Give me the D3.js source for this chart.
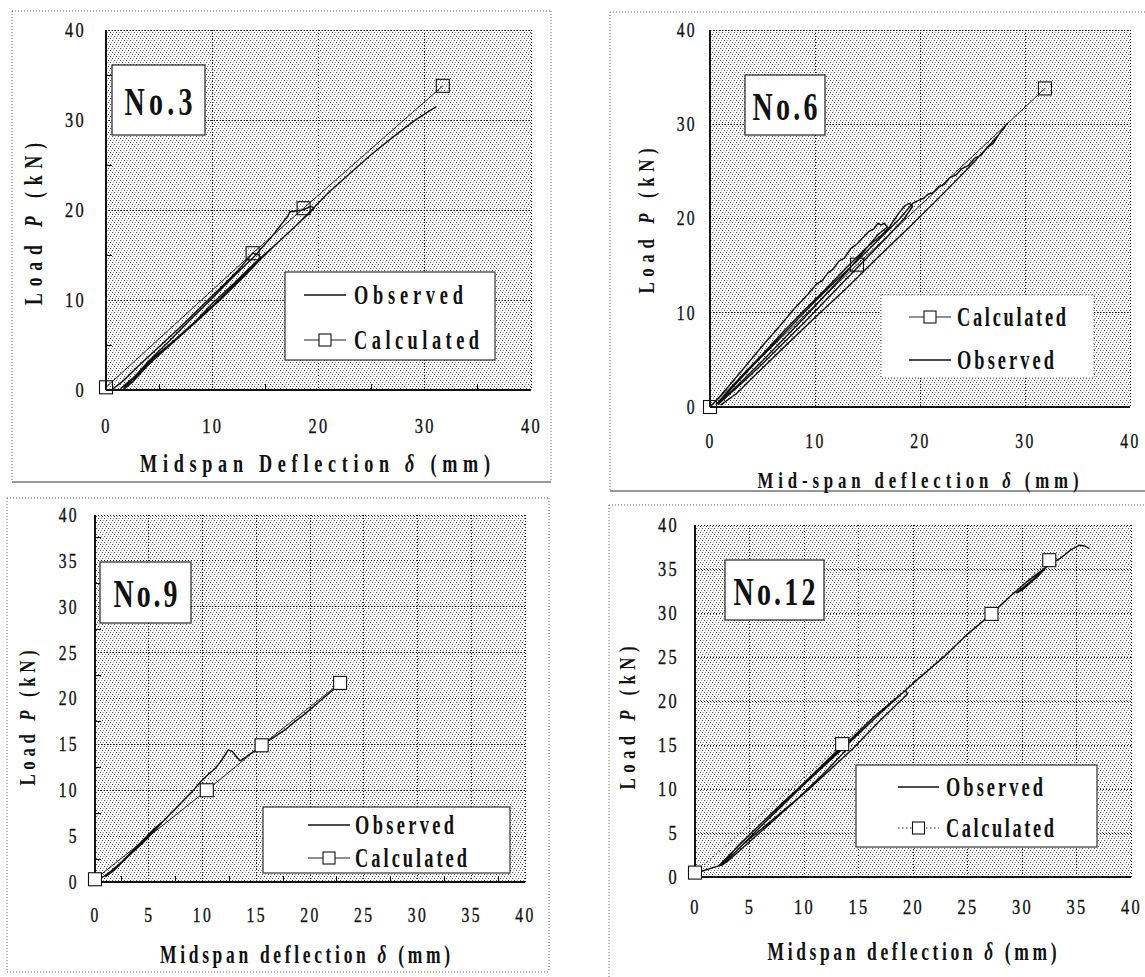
<!DOCTYPE html>
<html><head><meta charset="utf-8">
<script src="https://cdn.jsdelivr.net/npm/d3@7"></script>
<style>body{margin:0;background:#fff}svg{display:block}</style>
</head><body>
<svg id="fig" width="1145" height="977"></svg>
<script>
// Load–deflection curves of specimens No.3, No.6, No.9 and No.12
// every point: [midspan deflection (mm), load P (kN)]
const obsNo3 = [
  [0.5,0],[1.5,0.9],[3,2.6],[5,4.8],[7,7],[9,9.3],[11,11.6],[12.5,13.4],[13.8,15.2],
  [14.4,15.0],[14.6,14.6],[13,12.6],[11,10.3],[9,8.1],[7,6],[5,3.9],[3,1.8],[1.4,0.2],
  [2,0.6],[4,3.2],[6,5.5],[8,7.9],[10,10.2],[12,12.6],[14,14.9],[15.5,16.9],[17.1,19.3],[17.3,19.8],[18.5,20],[19.3,20.4],
  [19.6,20.2],[18,18.4],[16,16.2],[14,14.1],[12,11.8],[10,9.6],[8.4,7.6],[6.5,5.6],[4.5,3.6],[3,1.7],[2,0.6],[1.6,0],
  [2.5,0.9],[4,2.8],[6,5],[8,7.2],[10,9.3],[12,11.6],[14,13.9],[16,16.2],[18,18.4],[19.6,20.3],[21,22],[23,24.1],
  [25,26.2],[27,28.1],[29,29.9],[30.3,30.9],[31.1,31.5]
];
const calcNo3 = [[0,0.3],[13.8,15.2],[18.6,20.2],[31.7,33.8]];

const obsNo6 = [
  [0,0],[1,1.2],[2,2.5],[3.5,4.5],[5,6.5],[6.5,8.4],[8,10.4],[9.2,11.8],[10.2,13.1],[10.7,13.4],[11.2,14.2],
  [11.7,14.6],[12.3,15.5],[12.8,15.8],[13.4,16.8],[14,17.3],[14.6,18],[15.1,18.6],[15.6,18.9],[16,19.5],[16.3,19.3],
  [16.6,19.5],[16.9,19.1],
  [16,18.3],[14.5,16.3],[13,14.3],[11,11.9],[9,9.5],[7,7.2],[5,4.9],[3,2.7],[1.5,1.1],[0.6,0.3],
  [1.5,1.4],[3,3.3],[5,5.6],[7,8],[9,10.3],[11,12.5],[13,14.8],[15,17],[16.3,18.2],[17.1,19.1],[18,20.6],[18.6,21.4],
  [19,21.6],[19.3,21.3],
  [18.5,20],[17,18.2],[15,15.9],[13,13.6],[11,11.3],[9,9],[7,6.8],[5,4.6],[3,2.5],[1.5,1],[0.8,0.3],
  [2,1.9],[4,4.3],[6,6.6],[8,8.9],[10,11.2],[12,13.4],[14,15.5],[16,17.7],[18,19.9],[19.3,21.6],[19.8,21.9],
  [20.3,22.1],[20.8,22.6],[21.2,22.7],[21.8,23.4],[22.3,23.6],[22.8,24.3],[23.4,24.6],[24,25.3],[24.6,25.6],
  [25.2,26.4],[25.8,26.7],[26.4,27.5],[27,28],[27.5,28.9],[28,29.6],[28.3,30.1],
  [27.5,28.9],[25,25.8],[22,22.4],[19,19.1],[16,15.9],[13,12.6],[10,9.5],[7,6.3],[4.5,3.6],[2.5,1.4],[1,0.2]
];
const calcNo6 = [[0,0],[14,15.1],[31.9,33.8]];

const obsNo9 = [
  [0,0],[0.8,0.6],[1.5,1.2],[2.5,2.2],[3.5,3.4],[4.5,4.6],[5.5,5.8],[6.3,6.6],
  [5.8,5.9],[4.5,4.3],[3,2.7],[1.8,1.3],[1,0.6],
  [2,1.7],[3.5,3.3],[5,5],[6.5,6.8],[8,8.6],[9,9.8],[9.8,10.9],[10.5,11.7],[11.2,12.4],[11.8,13.3],[12.4,14.4],
  [12.8,14.2],[13.2,13.6],[13.5,13.2],[14,13.6],[14.6,14.1],[15.2,14.6],[16,15.3],[16.8,15.9],[17.7,16.6],
  [18.5,17.4],[19.5,18.3],[20.5,19.3],[21.5,20.3],[22.3,21.1]
];
const calcNo9 = [[0,0.3],[10.4,10],[15.5,14.9],[22.8,21.7]];

const obsNo12 = [
  [0.5,0.6],[1.5,1.0],[2.3,1.3],[3,2.2],[4,3.6],[6,6],[8.5,8.9],[11,11.9],[13.5,14.9],
  [14,14.6],[12,12],[9.5,9],[7,6.4],[4.5,3.8],[3,2],[2.2,1.3],
  [3,2.3],[5,4.8],[8,8.4],[11,11.8],[14,15.3],[16.5,18.3],[19.3,21.2],
  [19.5,20.8],[17,17.8],[14.5,14.6],[11,10.6],[8,7.3],[5,4],[3,1.8],[2.4,1.3],
  [3.5,2.6],[6,5.7],[10,10.5],[14,15.1],[17,18.6],[20,22],[23,25.2],[25,27.6],[27.2,29.9],[29,32],[30.5,33.6],
  [32.3,35.3],[31.5,34.2],[30,32.6],[29.5,32.3],[31,33.8],[32.5,35.5],[33.5,36.2],[34.5,37.2],[35.3,37.7],
  [35.8,37.6],[36.2,37.3]
];
const calcNo12 = [[0,0.5],[13.5,15.1],[27.2,29.9],[32.5,36]];

const ticksBy10 = [0, 10, 20, 30, 40];
const ticksBy5 = [0, 5, 10, 15, 20, 25, 30, 35, 40];
const seriesNames = {obs: "Observed", calc: "Calculated"};

const svg = d3.select("#fig");
const FONT = "'Liberation Serif','Times New Roman',serif";

// halftone-like grain used behind every plot area
const defs = svg.append("defs");
const grain = defs.append("pattern").attr("id", "grain")
  .attr("patternUnits", "userSpaceOnUse").attr("width", 6).attr("height", 6);
grain.append("rect").attr("width", 6).attr("height", 6).attr("fill", "#fff");
[[0,0,"#444"],[2,2,"#444"],[4,4,"#444"],[3,0,"#9a9a9a"],[5,2,"#9a9a9a"],[1,4,"#9a9a9a"]]
  .forEach(([x, y, c]) => grain.append("rect").attr("x", x).attr("y", y)
    .attr("width", 1).attr("height", 1).attr("fill", c));

const panels = [
  { title: "No.3", obs: obsNo3, calc: calcNo3, ticks: ticksBy10, minor: 5,
    frame: [12, 11, 551, 482], solidBottom: true, plot: [106, 30, 531, 390],
    yPad: 20, xPad: 28, tickSize: 21,
    yTitle: [34, 224, 162, 25], xTitle: ["Midspan Deflection ", 315, 463, 350, 26],
    box: [112, 65, 205, 135, 68], calcDash: null, squareFill: "none",
    legend: { rect: [285, 272, 495, 360], rows: [295, 340], order: ["obs", "calc"],
              sample: [304, 346], text: 354, widths: {obs: 109, calc: 125} } },
  { title: "No.6", obs: obsNo6, calc: calcNo6, ticks: ticksBy10, minor: null,
    frame: [610, 12, 1160, 491], solidBottom: true, plot: [710, 30, 1130, 407],
    yPad: 13, xPad: 27, tickSize: 20,
    yTitle: [646, 221, 145, 24], xTitle: ["Mid-span deflection ", 918, 480, 321, 24],
    box: [745, 75, 825, 135, 65], calcDash: null, squareFill: "none",
    legend: { rect: [881, 295, 1094, 378], rows: [317, 360], order: ["calc", "obs"],
              sample: [909, 951], text: 957, widths: {obs: 97, calc: 109}, dotted: true } },
  { title: "No.9", obs: obsNo9, calc: calcNo9, ticks: ticksBy5, minor: 2.5,
    frame: [7, 498, 549, 972], solidBottom: false, plot: [95, 515, 525, 882],
    yPad: 16, xPad: 26, tickSize: 20,
    yTitle: [27, 718, 135, 24], xTitle: ["Midspan deflection ", 305, 955, 290, 25],
    box: [100, 562, 191, 623, 64], calcDash: null, squareFill: "#fff",
    legend: { rect: [263, 807, 510, 873], rows: [825, 858], order: ["obs", "calc"],
              sample: [308, 350], text: 355, widths: {obs: 99, calc: 112} } },
  { title: "No.12", obs: obsNo12, calc: calcNo12, ticks: ticksBy5, minor: null,
    frame: [609, 505, 1160, 990], solidBottom: false, plot: [695, 525, 1131, 877],
    yPad: 16, xPad: 22, tickSize: 21,
    yTitle: [627, 718, 143, 24], xTitle: ["Midspan deflection ", 912, 952, 289, 25],
    box: [725, 560, 824, 620, 82], calcDash: "1.5,2.5", squareFill: "#fff",
    legend: { rect: [856, 765, 1097, 847], rows: [787, 828], order: ["obs", "calc"],
              sample: [898, 939], text: 946, widths: {obs: 97, calc: 108} } }
];

// bold, condensed, widely spaced lettering
function spacedText(parent, x, y, parts, o) {
  const sx = o.sx || 0.7;
  const t = parent.append("g")
    .attr("transform", `translate(${x},${y}) rotate(${o.rotate || 0}) scale(${sx},1)`)
    .append("text")
    .attr("font-family", FONT).attr("font-size", o.size)
    .attr("font-weight", o.weight || "bold")
    .attr("text-anchor", o.anchor || "start")
    .attr("dominant-baseline", "central")
    .attr("fill", "#111");
  if (o.width) t.attr("textLength", o.width / sx).attr("lengthAdjust", "spacing");
  parts.forEach(p => t.append("tspan").text(p[0]).attr("font-style", p[1] ? "italic" : null));
  return t;
}

function line(g, x1, y1, x2, y2, stroke, width, dash) {
  g.append("line").attr("x1", x1).attr("y1", y1).attr("x2", x2).attr("y2", y2)
    .attr("stroke", stroke).attr("stroke-width", width)
    .attr("stroke-dasharray", dash || null);
}

function square(g, cx, cy, s, fill) {
  g.append("rect").attr("x", cx - s / 2).attr("y", cy - s / 2)
    .attr("width", s).attr("height", s)
    .attr("fill", fill).attr("stroke", "#111").attr("stroke-width", 1.1);
}

const TICK_SX = 0.78;

panels.forEach(p => {
  const g = svg.append("g");
  const [fx0, fy0, fx1, fy1] = p.frame;
  // dotted panel frame
  line(g, fx0, fy0, fx1, fy0, "#666", 1, "1,2");
  line(g, fx0, fy0, fx0, fy1, "#666", 1, "1,2");
  line(g, fx1, fy0, fx1, fy1, "#666", 1, "1,2");
  line(g, fx0, fy1, fx1, fy1, p.solidBottom ? "#333" : "#666", 1, p.solidBottom ? null : "1,2");

  const [px0, py0, px1, py1] = p.plot;
  const x = d3.scaleLinear().domain([0, 40]).range([px0, px1]);
  const y = d3.scaleLinear().domain([0, 40]).range([py1, py0]);

  g.append("rect").attr("x", px0).attr("y", py0)
    .attr("width", px1 - px0).attr("height", py1 - py0)
    .attr("fill", "url(#grain)").attr("shape-rendering", "crispEdges");

  // dotted grid, including the top and right edges
  const grid = g.append("g").attr("shape-rendering", "crispEdges");
  p.ticks.filter(t => t > 0).forEach(t => {
    line(grid, x(t), py0, x(t), py1, "#111", 1, "1,2");
    line(grid, px0, y(t), px1, y(t), "#111", 1, "1,2");
  });
  // solid left and bottom axes
  line(grid, px0, py0, px0, py1, "#111", 1.3);
  line(grid, px0, py1, px1, py1, "#111", 1.3);
  if (p.minor) {
    d3.range(p.minor, 40, p.minor * 2).forEach(t => {
      line(grid, px0, y(t), px0 + 6, y(t), "#111", 1);
      line(grid, x(t), py1, x(t), py1 - 6, "#111", 1);
    });
  }

  // tick labels, narrowed horizontally
  const tickStyle = sel => {
    sel.select(".domain").remove();
    sel.selectAll("text").attr("font-family", FONT).attr("font-size", p.tickSize)
      .attr("letter-spacing", "3px").attr("fill", "#111")
      .attr("stroke", "#111").attr("stroke-width", 0.35)
      .attr("x", function () { return (+this.getAttribute("x") || 0) / TICK_SX; })
      .attr("transform", `scale(${TICK_SX},1)`);
  };
  g.append("g").attr("transform", `translate(${px0},0)`)
    .call(d3.axisLeft(y).tickValues(p.ticks).tickSize(0).tickPadding(p.yPad).tickFormat(d3.format("d")))
    .call(tickStyle);
  g.append("g").attr("transform", `translate(0,${py1})`)
    .call(d3.axisBottom(x).tickValues(p.ticks).tickSize(0).tickPadding(p.xPad).tickFormat(d3.format("d")))
    .call(tickStyle);

  // axis titles
  spacedText(g, p.yTitle[0], p.yTitle[1], [["Load  "], ["P", true], ["  (kN)"]],
    { size: p.yTitle[3], width: p.yTitle[2], rotate: -90, anchor: "middle" });
  const [xt, xcx, xcy, xw, xs] = p.xTitle;
  spacedText(g, xcx, xcy, [[xt], ["δ", true], ["  (mm)"]],
    { size: xs, width: xw, anchor: "middle" });

  // curves
  const path = d3.line().x(d => x(d[0])).y(d => y(d[1]));
  g.append("path").datum(p.calc).attr("d", path).attr("fill", "none")
    .attr("stroke", "#222").attr("stroke-width", 1)
    .attr("stroke-dasharray", p.calcDash);
  g.append("path").datum(p.obs).attr("d", path).attr("fill", "none")
    .attr("stroke", "#111").attr("stroke-width", 1.4).attr("stroke-linejoin", "round");
  p.calc.forEach(d => square(g, x(d[0]), y(d[1]), 13, p.squareFill));

  // specimen label
  const [bx0, by0, bx1, by1, bw] = p.box;
  g.append("rect").attr("x", bx0).attr("y", by0).attr("width", bx1 - bx0).attr("height", by1 - by0)
    .attr("fill", "#fff").attr("stroke", "#222").attr("stroke-width", 1.2);
  spacedText(g, (bx0 + bx1) / 2, (by0 + by1) / 2 + 1, [[p.title]],
    { size: 40, width: bw, anchor: "middle" });

  // legend
  const L = p.legend;
  g.append("rect").attr("x", L.rect[0]).attr("y", L.rect[1])
    .attr("width", L.rect[2] - L.rect[0]).attr("height", L.rect[3] - L.rect[1])
    .attr("fill", "#fff").attr("stroke", L.dotted ? "#777" : "#222")
    .attr("stroke-width", 1.1).attr("stroke-dasharray", L.dotted ? "1,2" : null);
  L.order.forEach((key, i) => {
    const ry = L.rows[i];
    if (key === "obs") {
      line(g, L.sample[0], ry, L.sample[1], ry, "#111", 1.3);
    } else {
      line(g, L.sample[0], ry, L.sample[1], ry, "#222", 1, p.calcDash);
      square(g, (L.sample[0] + L.sample[1]) / 2, ry, 12, "#fff");
    }
    spacedText(g, L.text, ry, [[seriesNames[key]]], { size: 27, width: L.widths[key], sx: 0.68 });
  });
});
</script>
</body></html>
